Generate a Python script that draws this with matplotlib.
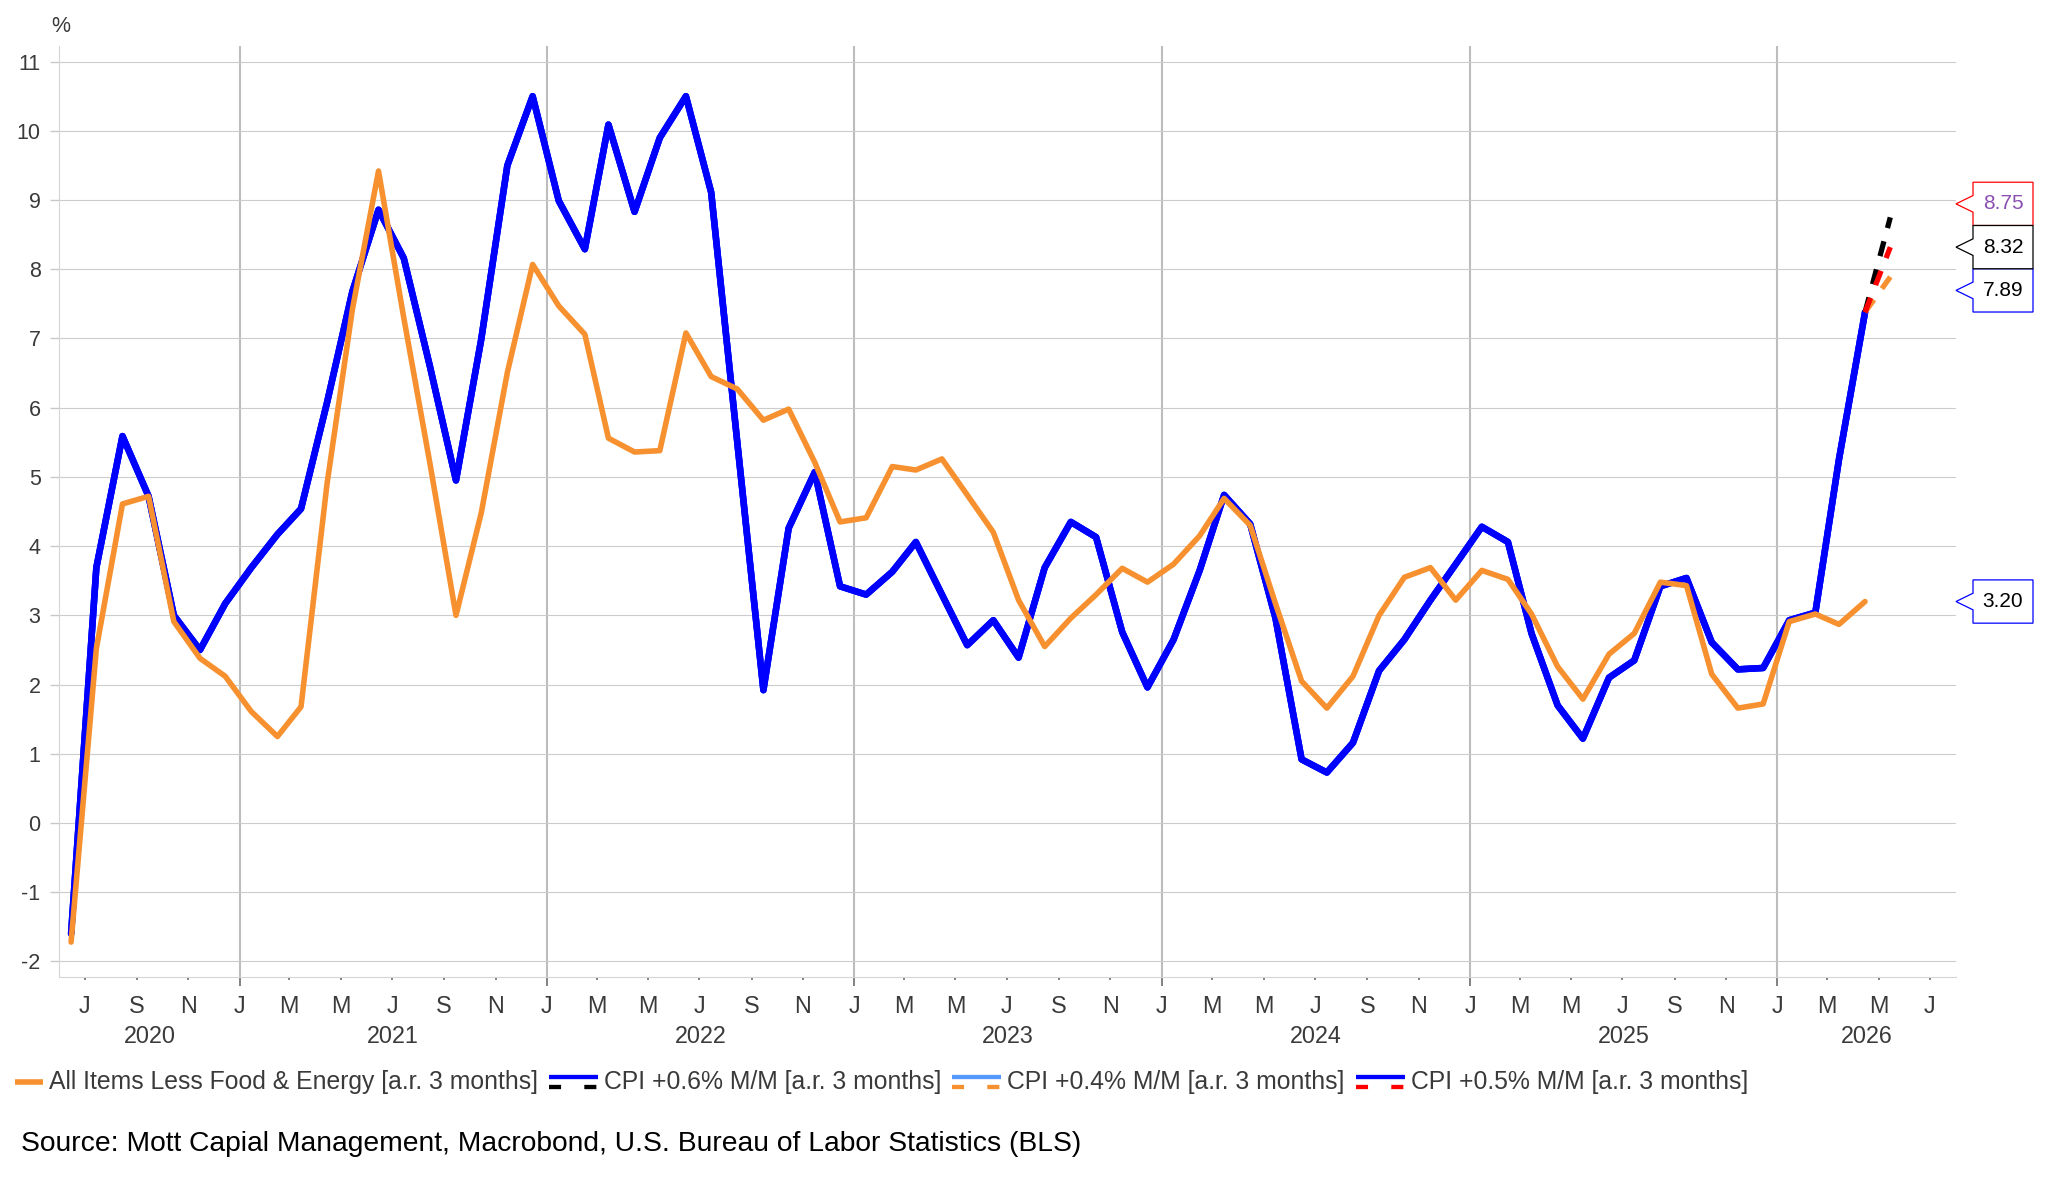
import numpy as np
import pandas as pd
import matplotlib
matplotlib.use('Agg')
import matplotlib.pyplot as plt
import matplotlib.dates as mdates
from matplotlib.lines import Line2D
from matplotlib.patches import Polygon
from matplotlib.transforms import blended_transform_factory

plt.rcParams['font.family'] = ['Liberation Sans', 'DejaVu Sans']
plt.rcParams['axes.unicode_minus'] = False

# monthly data, Jun 2020 .. Apr 2026 (3-month annualised, %)
first_month = '2020-06'
cpi = [-1.6, 3.69, 5.59, 4.72, 3.0, 2.5, 3.17,
       3.69, 4.17, 4.54, 6.08, 7.68, 8.86, 8.16, 6.6, 4.95, 6.99, 9.5, 10.5,
       8.99, 8.29, 10.09, 8.83, 9.9, 10.5, 9.11, 5.5, 1.92, 4.26, 5.07, 3.42,
       3.30, 3.63, 4.06, 3.30, 2.57, 2.93, 2.39, 3.69, 4.35, 4.13, 2.76, 1.96,
       2.65, 3.65, 4.74, 4.32, 2.96, 0.92, 0.73, 1.16, 2.2, 2.65, 3.22, 3.74,
       4.28, 4.06, 2.74, 1.7, 1.22, 2.1, 2.35, 3.42, 3.54, 2.61, 2.22, 2.24,
       2.93, 3.04, 5.25, 7.38]
core = [-1.72, 2.52, 4.61, 4.72, 2.91, 2.38, 2.12,
        1.61, 1.25, 1.68, 4.91, 7.42, 9.42, 7.3, 5.2, 3.0, 4.48, 6.51, 8.07,
        7.47, 7.06, 5.56, 5.36, 5.38, 7.08, 6.45, 6.27, 5.82, 5.98, 5.21, 4.35,
        4.41, 5.15, 5.10, 5.26, 4.74, 4.2, 3.22, 2.55, 2.96, 3.30, 3.68, 3.48,
        3.74, 4.15, 4.69, 4.30, 3.17, 2.05, 1.66, 2.12, 3.0, 3.55, 3.69, 3.22,
        3.65, 3.52, 3.02, 2.26, 1.79, 2.44, 2.74, 3.48, 3.43, 2.15, 1.66, 1.72,
        2.91, 3.02, 2.87, 3.20]
core_label = 'All Items Less Food & Energy [a.r. 3 months]'

# scenarios: value in the next month (May 2026)
scen_labels = ['CPI +0.6% M/M [a.r. 3 months]', 'CPI +0.4% M/M [a.r. 3 months]',
               'CPI +0.5% M/M [a.r. 3 months]']
scen_next = [8.75, 7.89, 8.32]
scen_solid = ['#0000ff', '#5599ff', '#0000ff']
scen_dash = ['#000000', '#f7902f', '#ff0000']
# value boxes on the right
box_edge = {8.75: '#ff0000', 8.32: '#000000', 7.89: '#0000ff', 3.20: '#0000ff'}
box_text = {8.75: '#8a4fb0', 8.32: '#000000', 7.89: '#000000', 3.20: '#000000'}

ORANGE = '#f7902f'
TXT = '#3a3a3a'

months = pd.date_range(first_month, periods=len(cpi), freq='MS')
x = months + pd.Timedelta(days=14)
x_next = months[-1] + pd.DateOffset(months=1) + pd.Timedelta(days=14)

W, H = 2048, 1180
fig = plt.figure(figsize=(W / 100, H / 100), dpi=100)
ax = fig.add_axes([59.3 / W, 1 - 976.7 / H, (1956 - 59.3) / W, (976.7 - 45.7) / H])

xmin = pd.Timestamp('2020-06-01')
xmax = pd.Timestamp('2026-08-01')
ax.set_xlim(xmin, xmax)
ax.set_ylim(-2.22, 11.23)

# scenario lines: history solid + dashed last step
draw_order = [1, 0, 2]
for i in draw_order:
    ax.plot(x, cpi, color=scen_solid[i], lw=4.7, solid_joinstyle='round',
            solid_capstyle='round', zorder=3)
for i in draw_order:
    ax.plot([x[-1], x_next], [cpi[-1], scen_next[i]], color=scen_dash[i], lw=3.8,
            linestyle=(0, (2.9, 2.6)), dash_capstyle='butt', zorder=4)
ax.plot(x, core, color=ORANGE, lw=4.0, solid_joinstyle='round',
        solid_capstyle='round', zorder=5)

# axes styling
for s in ['top', 'right']:
    ax.spines[s].set_visible(False)
ax.spines['left'].set_color('#d5d5d5')
ax.spines['bottom'].set_color('#d5d5d5')
ax.set_yticks(range(-2, 12))
ax.grid(axis='y', color='#cccccc', lw=0.8)
ax.set_axisbelow(True)
ax.tick_params(axis='y', length=6.7, width=1.0, color='#c8c8c8', pad=6.8,
               labelsize=15.5, labelcolor=TXT)

ax.xaxis.set_major_locator(mdates.MonthLocator(bymonth=[1]))
ax.xaxis.set_minor_locator(mdates.MonthLocator(bymonth=[3, 5, 7, 9, 11]))
letters = 'JFMAMJJASOND'
month_letter = plt.FuncFormatter(lambda v, p: letters[mdates.num2date(v).month - 1])
ax.xaxis.set_major_formatter(month_letter)
ax.xaxis.set_minor_formatter(month_letter)
ax.tick_params(axis='x', which='major', length=6.3, width=1.3, color='#777777',
               pad=6.9, labelsize=16.8, labelcolor=TXT)
ax.tick_params(axis='x', which='minor', length=2.5, width=1.3, color='#777777',
               pad=10.7, labelsize=16.8, labelcolor=TXT)
ax.grid(axis='x', which='major', color='#bdbdbd', lw=1.5)

# year labels centred on the visible part of each year
trans_xa = blended_transform_factory(ax.transData, ax.transAxes)
for yr in range(2020, 2027):
    a = max(pd.Timestamp(f'{yr}-01-01'), xmin)
    b = min(pd.Timestamp(f'{yr + 1}-01-01'), xmax)
    mid = a + (b - a) / 2
    ax.text(mid, -0.0637, str(yr), transform=trans_xa, ha='center', va='center',
            fontsize=16.8, color=TXT)

fig.text(61 / W, 1 - 26 / H, '%', ha='center', va='center', fontsize=15.5, color=TXT)


# value boxes with pointer on the right
def spread(vals, h):
    order = np.argsort(vals)
    pos = np.array(vals, float)[order]
    for _ in range(500):
        moved = False
        for k in range(len(pos) - 1):
            gap = pos[k + 1] - pos[k]
            if gap < h - 1e-6:
                d = (h - gap) / 2
                pos[k] -= d
                pos[k + 1] += d
                moved = True
        if not moved:
            break
    out = np.empty_like(pos)
    out[order] = pos
    return out


ax_w = (1956 - 59.3)
box_h = 0.625
tip_len, box_w, ptr = 17 / ax_w, 60 / ax_w, 0.12
trans_ay = blended_transform_factory(ax.transAxes, ax.transData)
groups = [scen_next, [core[-1]]]
for g in groups:
    ys = spread(g, box_h)
    for v, yc in zip(g, ys):
        x0 = 1 + tip_len
        x1 = x0 + box_w
        verts = [(1.0, yc), (x0, yc + ptr), (x0, yc + box_h / 2), (x1, yc + box_h / 2),
                 (x1, yc - box_h / 2), (x0, yc - box_h / 2), (x0, yc - ptr)]
        ax.add_patch(Polygon(verts, closed=True, transform=trans_ay, facecolor='white',
                             edgecolor=box_edge[v], lw=0.9, clip_on=False, zorder=6))
        ax.text((x0 + x1) / 2, yc, f'{v:.2f}', transform=trans_ay, ha='center',
                va='center', fontsize=15, color=box_text[v], zorder=7, clip_on=False)

# legend along the bottom
fig.canvas.draw()
rend = fig.canvas.get_renderer()
ly = H - 1082
xp = 15.0
items = [(core_label, None)] + [(scen_labels[i], i) for i in range(3)]
for lab, i in items:
    if i is None:
        fig.add_artist(Line2D([xp / W, (xp + 28) / W], [ly / H, ly / H], color=ORANGE,
                              lw=4.0, solid_capstyle='butt', transform=fig.transFigure))
        xp += 28
    else:
        fig.add_artist(Line2D([xp / W, (xp + 49) / W], [(ly + 5) / H, (ly + 5) / H],
                              color=scen_solid[i], lw=3.1, solid_capstyle='butt',
                              transform=fig.transFigure))
        fig.add_artist(Line2D([xp / W, (xp + 49) / W], [(ly - 5) / H, (ly - 5) / H],
                              color=scen_dash[i], lw=3.1, linestyle=(0, (2.8, 5.4)),
                              dash_capstyle='butt', transform=fig.transFigure))
        xp += 49
    xp += 6
    t = fig.text(xp / W, ly / H, lab, ha='left', va='center', fontsize=17.8, color=TXT)
    bb = t.get_window_extent(rend)
    xp = bb.x1 + 11

fig.text(21 / W, 1 - 1144 / H,
         'Source: Mott Capial Management, Macrobond, U.S. Bureau of Labor Statistics (BLS)',
         ha='left', va='center', fontsize=20.3, color='black')

fig.savefig('out.png', dpi=100)
